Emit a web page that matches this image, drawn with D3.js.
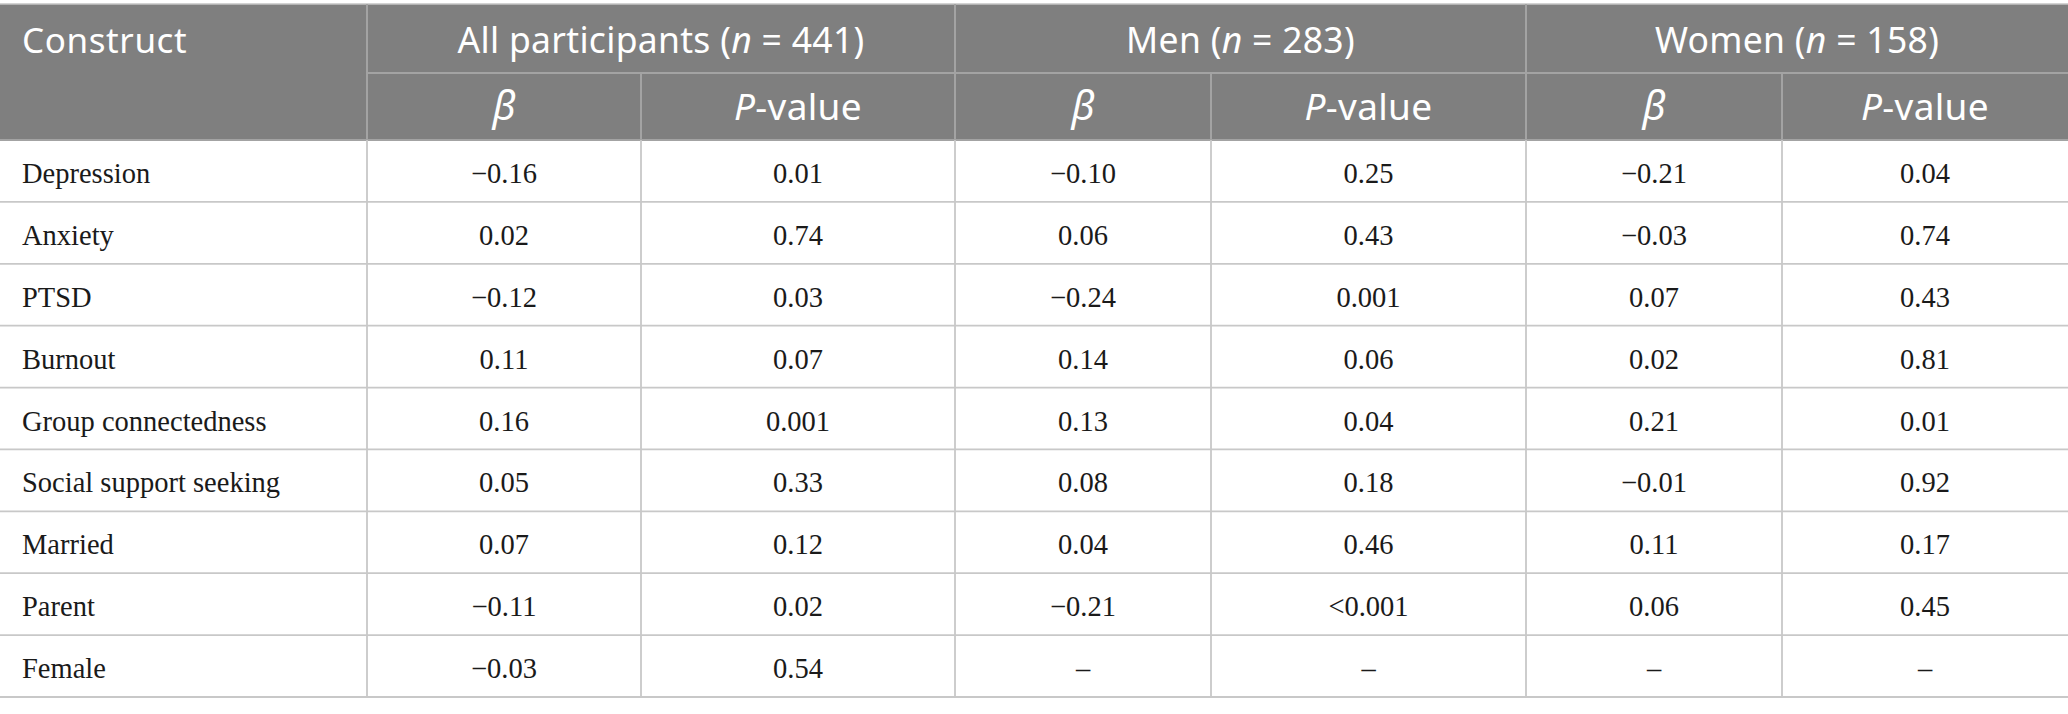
<!DOCTYPE html>
<html>
<head>
<meta charset="utf-8">
<script src="https://cdn.jsdelivr.net/npm/d3@7"></script>
<style>
  html, body { margin: 0; padding: 0; background: #fff; }
  svg { display: block; }
  .head { font-family: "Noto Sans", "Open Sans", sans-serif; fill: #fff; }
  .cell { font-family: "Liberation Serif", "DejaVu Serif", serif; fill: #1a1a1a; }
</style>
</head>
<body>
<svg id="table"></svg>
<script>
// table content
var constructs = ["Depression", "Anxiety", "PTSD", "Burnout", "Group connectedness",
  "Social support seeking", "Married", "Parent", "Female"];
var groups = ["All participants", "Men", "Women"];
var groupN = [441, 283, 158];

var betaAll   = [-0.16, 0.02, -0.12, 0.11, 0.16, 0.05, 0.07, -0.11, -0.03];
var pAll      = ["0.01", "0.74", "0.03", "0.07", "0.001", "0.33", "0.12", "0.02", "0.54"];
var betaMen   = [-0.10, 0.06, -0.24, 0.14, 0.13, 0.08, 0.04, -0.21, null];
var pMen      = ["0.25", "0.43", "0.001", "0.06", "0.04", "0.18", "0.46", "<0.001", null];
var betaWomen = [-0.21, -0.03, 0.07, 0.02, 0.21, -0.01, 0.11, 0.06, null];
var pWomen    = ["0.04", "0.74", "0.43", "0.81", "0.01", "0.92", "0.17", "0.45", null];

var betas = [betaAll, betaMen, betaWomen];
var pvals = [pAll, pMen, pWomen];

class RegressionTable {
  render(targetElementSelector) {
    var width = 2068, height = 714,
        top = 4, subTop = 73, bodyTop = 140, bottom = 697;

    var svg = d3.select(targetElementSelector)
        .attr("width", width)
        .attr("height", height);

    // column edges: label column, then beta / P pairs for each group
    var colKeys = ["label"];
    groups.forEach(function(g, i) { colKeys.push("b" + i, "p" + i); });
    var edges = [0, 367, 641, 955, 1211, 1526, 1782, 2068];
    var colLeft = d3.scaleOrdinal().domain(colKeys).range(edges.slice(0, -1));
    var colRight = d3.scaleOrdinal().domain(colKeys).range(edges.slice(1));
    function colMid(k) { return (colLeft(k) + colRight(k)) / 2; }

    var y = d3.scaleBand()
      .domain(constructs)
      .range([bodyTop, bottom]);

    var fmt = d3.format(".2f");  // uses the unicode minus
    var dash = "\u2013";

    // header background
    svg.append("rect")
        .attr("x", 0).attr("y", top)
        .attr("width", width).attr("height", bodyTop - top)
        .attr("fill", "#7f7f7f");
    svg.append("line")
        .attr("x1", 0).attr("x2", width)
        .attr("y1", top).attr("y2", top)
        .attr("stroke", "#c4c4c4").attr("stroke-width", 1.5);

    // header grid
    var hg = svg.append("g").attr("stroke", "#a3a3a3").attr("stroke-width", 2);
    hg.append("line")
        .attr("x1", colLeft("b0")).attr("x2", width)
        .attr("y1", subTop).attr("y2", subTop);
    groups.forEach(function(g, i) {
      hg.append("line")
          .attr("x1", colLeft("b" + i)).attr("x2", colLeft("b" + i))
          .attr("y1", top).attr("y2", bodyTop);
      hg.append("line")
          .attr("x1", colLeft("p" + i)).attr("x2", colLeft("p" + i))
          .attr("y1", subTop).attr("y2", bodyTop);
    });
    hg.append("line")
        .attr("x1", 0).attr("x2", width)
        .attr("y1", bodyTop).attr("y2", bodyTop);

    // header text
    svg.append("text")
        .attr("class", "head")
        .attr("x", 22).attr("y", 53)
        .attr("font-size", 35)
        .attr("letter-spacing", 0.6)
        .text("Construct");

    groups.forEach(function(g, i) {
      var t = svg.append("text")
          .attr("class", "head")
          .attr("x", (colLeft("b" + i) + colRight("p" + i)) / 2)
          .attr("y", 53)
          .attr("font-size", 35.5)
          .attr("letter-spacing", 0.3)
          .attr("text-anchor", "middle");
      t.append("tspan").text(g + " (");
      t.append("tspan").attr("font-style", "italic").text("n");
      t.append("tspan").text(" = " + groupN[i] + ")");

      svg.append("text")
          .attr("class", "head")
          .attr("x", colMid("b" + i)).attr("y", 120)
          .attr("font-size", 40)
          .attr("font-family", "'Liberation Serif', serif")
          .attr("font-style", "italic")
          .attr("text-anchor", "middle")
          .text("\u03b2");

      var pt = svg.append("text")
          .attr("class", "head")
          .attr("x", colMid("p" + i)).attr("y", 120)
          .attr("font-size", 37)
          .attr("letter-spacing", 0.3)
          .attr("text-anchor", "middle");
      pt.append("tspan").attr("font-style", "italic").text("P");
      pt.append("tspan").text("-value");
    });

    // body grid
    var bg = svg.append("g").attr("stroke", "#c8c8c8").attr("stroke-width", 1.8);
    bg.selectAll(".row-line")
      .data(constructs)
      .enter().append("line")
        .attr("class", "row-line")
        .attr("x1", 0).attr("x2", width)
        .attr("y1", function(d) { return y(d) + y.bandwidth(); })
        .attr("y2", function(d) { return y(d) + y.bandwidth(); });
    bg.selectAll(".col-line")
      .data(colKeys.slice(1))
      .enter().append("line")
        .attr("class", "col-line")
        .attr("x1", colLeft).attr("x2", colLeft)
        .attr("y1", bodyTop).attr("y2", bottom);

    // row labels
    svg.selectAll(".label")
      .data(constructs)
      .enter().append("text")
        .attr("class", "cell label")
        .attr("x", 22)
        .attr("y", function(d) { return y(d) + y.bandwidth() / 2 + 12; })
        .attr("font-size", 28.5)
        .text(function(d) { return d; });

    // values
    groups.forEach(function(g, i) {
      svg.selectAll(".beta-" + i)
        .data(betas[i])
        .enter().append("text")
          .attr("class", "cell beta-" + i)
          .attr("x", colMid("b" + i))
          .attr("y", function(d, j) { return y(constructs[j]) + y.bandwidth() / 2 + 12; })
          .attr("font-size", 28.5)
          .attr("text-anchor", "middle")
          .text(function(d) { return d == null ? dash : fmt(d); });

      svg.selectAll(".pval-" + i)
        .data(pvals[i])
        .enter().append("text")
          .attr("class", "cell pval-" + i)
          .attr("x", colMid("p" + i))
          .attr("y", function(d, j) { return y(constructs[j]) + y.bandwidth() / 2 + 12; })
          .attr("font-size", 28.5)
          .attr("text-anchor", "middle")
          .text(function(d) { return d == null ? dash : d; });
    });
  }
}

new RegressionTable().render("#table");
</script>
</body>
</html>
